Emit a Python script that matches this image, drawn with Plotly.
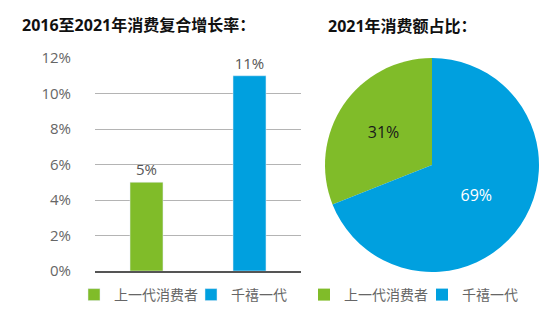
import plotly.graph_objects as go

categories = ["上一代消费者", "千禧一代"]
growth = [5, 11]
share = [31, 69]
colors = ["#80bc29", "#00a0df"]
yticks = [0, 2, 4, 6, 8, 10, 12]
ytick_labels = [f"{v}%" for v in yticks]

W, H = 548, 325
FONT = "Open Sans, Noto Sans CJK SC, sans-serif"

fig = go.Figure()
for cat, val, col in zip(categories, growth, colors):
    fig.add_trace(go.Bar(
        x=[cat], y=[val], name=cat, marker_color=col, width=0.32,
        text=[f"{val}%"], textposition="outside", cliponaxis=False,
        textfont=dict(size=15, color="#555555", family=FONT),
        legend="legend", showlegend=True,
    ))

fig.add_trace(go.Pie(
    labels=categories, values=share, marker=dict(colors=colors),
    sort=False, direction="clockwise", rotation=-111.6,
    texttemplate="%{percent:.0%}", textinfo="percent",
    textfont=dict(size=16, family=FONT),
    insidetextfont=dict(color=["#1a1a1a", "#ffffff"], size=16, family=FONT),
    domain=dict(x=[325/W, 539/W], y=[1-272/H, 1-58/H]),
    legend="legend2", hoverinfo="label+percent",
))

fig.update_layout(
    width=W, height=H, margin=dict(l=0, r=0, t=0, b=0, autoexpand=False),
    paper_bgcolor="white", plot_bgcolor="white",
    font=dict(family=FONT, color="#555555"),
    barmode="overlay",
    xaxis=dict(domain=[95/W, 301/W], showticklabels=False, showgrid=False,
               showline=True, linecolor="#555555", linewidth=1.5, ticks="",
               automargin=False),
    yaxis=dict(domain=[1-271/H, 1-58/H], range=[0, 12], tickvals=yticks,
               ticktext=ytick_labels, showgrid=True, gridcolor="#b4b4b4",
               gridwidth=1, zeroline=False, ticks="", ticklabelstandoff=23,
               automargin=False,
               tickfont=dict(size=15, color="#666666", family=FONT)),
    legend=dict(orientation="h", x=74/W, y=1-295/H, xanchor="left", yanchor="middle",
                font=dict(size=14, color="#666666", family=FONT),
                entrywidth=72, entrywidthmode="pixels",
                bgcolor="rgba(0,0,0,0)"),
    legend2=dict(orientation="h", x=304/W, y=1-295/H, xanchor="left", yanchor="middle",
                 font=dict(size=14, color="#666666", family=FONT),
                 entrywidth=73, entrywidthmode="pixels",
                 bgcolor="rgba(0,0,0,0)"),
    showlegend=True,
    annotations=[
        dict(text="<b>2016至2021年消费复合增长率：</b>", x=20/W, y=1-25/H,
             xref="paper", yref="paper", xanchor="left", yanchor="middle",
             showarrow=False, font=dict(size=16, color="#111111", family=FONT)),
        dict(text="<b>2021年消费额占比：</b>", x=326/W, y=1-26/H,
             xref="paper", yref="paper", xanchor="left", yanchor="middle",
             showarrow=False, font=dict(size=16, color="#111111", family=FONT)),
    ],
)

fig.write_html("out.html")
